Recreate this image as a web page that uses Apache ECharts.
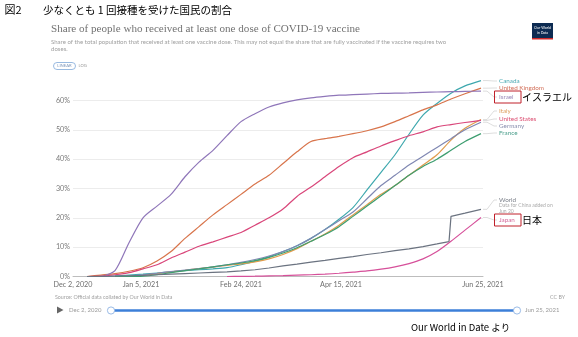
<!DOCTYPE html>
<html>
<head>
<meta charset="utf-8">
<script src="https://cdn.jsdelivr.net/npm/echarts@6/dist/echarts.min.js"></script>
<style>
  html, body { margin: 0; padding: 0; background: #fff; }
  #chart { width: 578px; height: 337px; }
</style>
</head>
<body>
<div id="chart"></div>
<script>
// Weekly sample dates (last point is the final day of data)
const dates = [
  '2020-12-02','2020-12-09','2020-12-16','2020-12-23','2020-12-30',
  '2021-01-06','2021-01-13','2021-01-20','2021-01-27','2021-02-03',
  '2021-02-10','2021-02-17','2021-02-24','2021-03-03','2021-03-10',
  '2021-03-17','2021-03-24','2021-03-31','2021-04-07','2021-04-14',
  '2021-04-21','2021-04-28','2021-05-05','2021-05-12','2021-05-19',
  '2021-05-26','2021-06-02','2021-06-09','2021-06-16','2021-06-24'
];

// Share of population with at least one dose (%)
const canada  = [null,null,0,0.2,0.5,0.8,1.2,1.6,2.0,2.3,2.6,3.0,4.0,5.2,6.7,8.5,10.5,13.0,16.0,19.5,23.5,29.5,35.5,41.5,48.5,55.0,59.0,62.5,65.0,66.8];
const uk      = [null,0,0.5,1.0,1.8,3.0,5.3,8.5,13.0,17.0,21.0,24.5,28.0,31.5,34.5,38.5,42.5,46.0,47.0,47.8,48.7,49.7,51.0,52.8,54.8,56.8,58.5,60.5,62.3,64.2];
const israel  = [null,null,0,2.0,11.5,20.0,24.0,28.0,34.0,39.0,43.0,48.0,52.8,55.5,57.8,59.2,60.2,60.9,61.4,61.8,62.0,62.2,62.4,62.5,62.6,62.8,62.9,63.0,63.1,63.2];
const italy   = [null,null,null,0,0.05,0.4,1.0,1.6,2.1,2.7,3.2,3.8,4.3,5.0,6.0,7.5,9.5,12.0,14.5,17.5,21.0,24.5,28.0,31.0,34.5,38.0,41.5,46.5,50.5,53.5];
const us      = [null,0,0.1,0.6,1.3,2.6,4.0,6.3,8.3,10.3,11.8,13.4,15.0,17.5,20.0,23.0,27.3,30.5,34.0,37.5,40.5,42.5,44.5,46.3,48.0,49.3,51.0,51.8,52.5,53.2];
const germany = [null,null,null,0,0.1,0.6,1.1,1.7,2.2,2.7,3.3,4.0,4.8,5.8,7.0,8.5,10.5,13.0,16.0,19.0,22.0,26.5,31.0,34.5,38.0,41.0,44.0,47.0,50.0,52.6];
const france  = [null,null,null,0,0,0.1,0.6,1.3,2.0,2.6,3.3,4.0,4.6,5.4,6.5,8.0,9.8,12.0,14.3,17.0,20.5,24.0,27.5,31.0,34.5,37.5,40.0,43.0,46.0,48.7];
const japan   = [null,null,null,null,null,null,null,null,null,null,null,0,0.05,0.1,0.2,0.3,0.45,0.6,0.8,1.1,1.5,1.9,2.5,3.3,4.4,6.0,8.5,12.0,15.8,20.1];

// World has an extra day around the step when China's data was added
const worldDates = [
  '2020-12-02','2020-12-09','2020-12-16','2020-12-23','2020-12-30',
  '2021-01-06','2021-01-13','2021-01-20','2021-01-27','2021-02-03',
  '2021-02-10','2021-02-17','2021-02-24','2021-03-03','2021-03-10',
  '2021-03-17','2021-03-24','2021-03-31','2021-04-07','2021-04-14',
  '2021-04-21','2021-04-28','2021-05-05','2021-05-12','2021-05-19',
  '2021-05-26','2021-06-02','2021-06-08','2021-06-09','2021-06-16','2021-06-24'
];
const world = [null,0,0.05,0.1,0.25,0.4,0.6,0.8,1.0,1.2,1.4,1.6,1.9,2.3,2.9,3.6,4.2,4.9,5.5,6.2,6.8,7.5,8.1,8.8,9.4,10.2,11.1,11.9,20.5,21.6,22.9];

// Axis ticks
const xTicks = ['2020-12-02','2021-01-05','2021-02-24','2021-04-15','2021-06-25'];
const xTickLabels = ['Dec 2, 2020','Jan 5, 2021','Feb 24, 2021','Apr 15, 2021','Jun 25, 2021'];
const yTicks = [0, 10, 20, 30, 40, 50, 60];

const countries = [
  { name: 'Canada',         vals: canada,  x: dates,      color: '#3ea8ae', label: '#49a9b3', ly: 81 },
  { name: 'United Kingdom', vals: uk,      x: dates,      color: '#d8744b', label: '#d2705a', ly: 88 },
  { name: 'Israel',         vals: israel,  x: dates,      color: '#8f76b9', label: '#9a8ab9', ly: 97, box: true, jp: 'イスラエル' },
  { name: 'Italy',          vals: italy,   x: dates,      color: '#e09c4c', label: '#dea060', ly: 111 },
  { name: 'United States',  vals: us,      x: dates,      color: '#d9467a', label: '#dc4f72', ly: 119 },
  { name: 'Germany',        vals: germany, x: dates,      color: '#7f87b2', label: '#8a8fae', ly: 126 },
  { name: 'France',         vals: france,  x: dates,      color: '#3e9e70', label: '#4b9f8c', ly: 133 },
  { name: 'World',          vals: world,   x: worldDates, color: '#6b7380', label: '#7a7f88', ly: 200, step: true },
  { name: 'Japan',          vals: japan,   x: dates,      color: '#d6509a', label: '#d56a9a', ly: 220, box: true, jp: '日本' }
];

// Dates are placed on a day-count axis measured from the first tick date
const DAY = 86400000;
const origin = Date.UTC(2020, 11, 2);
const toDay = s => Math.round((new Date(s + 'T00:00:00Z').getTime() - origin) / DAY);
const tickDays = xTicks.map(toDay);

const series = countries.map(c => ({
  name: c.name,
  type: 'line',
  showSymbol: false,
  smooth: c.step ? false : 0.25,
  clip: false,
  lineStyle: { width: 1.2, color: c.color },
  itemStyle: { color: c.color },
  data: c.x.map((d, i) => [toDay(d), c.vals[i]]).filter(p => p[1] !== null),
  z: 3
}));

const chart = echarts.init(document.getElementById('chart'), null, { renderer: 'canvas' });

const baseText = { fontFamily: 'Lato, "Noto Sans", sans-serif' };
const jpFont = '"Noto Sans CJK JP", sans-serif';

const staticGraphics = [
  // Japanese figure heading
  { type: 'text', x: 4.5, y: 10, style: { text: '図2', fontFamily: jpFont, fontSize: 11, fill: '#000', verticalAlign: 'middle' } },
  { type: 'text', x: 43, y: 10, style: { text: '少なくとも 1 回接種を受けた国民の割合', fontFamily: jpFont, fontSize: 10.5, fill: '#000', verticalAlign: 'middle' } },
  // Chart title & subtitle
  { type: 'text', x: 51, y: 29.5, style: { text: 'Share of people who received at least one dose of COVID-19 vaccine', fontFamily: '"Liberation Serif", serif', fontSize: 11.1, fill: '#727272', verticalAlign: 'middle' } },
  { type: 'text', x: 51, y: 42, style: { text: 'Share of the total population that received at least one vaccine dose. This may not equal the share that are fully vaccinated if the vaccine requires two', ...baseText, fontSize: 6.05, fill: '#a0a0a0', verticalAlign: 'middle' } },
  { type: 'text', x: 51, y: 49, style: { text: 'doses.', ...baseText, fontSize: 6.05, fill: '#a0a0a0', verticalAlign: 'middle' } },
  // Linear / log toggle
  { type: 'rect', shape: { x: 53.5, y: 62.5, width: 22, height: 7, r: 3.5 }, style: { fill: '#fff', stroke: '#7fa8d8', lineWidth: 0.8 } },
  { type: 'text', x: 64.5, y: 66, style: { text: 'LINEAR', ...baseText, fontSize: 4.2, fill: '#7a94b8', align: 'center', verticalAlign: 'middle' } },
  { type: 'text', x: 78.5, y: 66, style: { text: 'LOG', ...baseText, fontSize: 4.2, fill: '#999', verticalAlign: 'middle' } },
  // Logo
  { type: 'rect', shape: { x: 532, y: 23, width: 21, height: 15 }, style: { fill: '#0d2b52' } },
  { type: 'rect', shape: { x: 532, y: 38, width: 21, height: 1.5 }, style: { fill: '#cf2a2a' } },
  { type: 'text', x: 542.5, y: 28, style: { text: 'Our World', ...baseText, fontSize: 3.6, fill: '#fff', align: 'center', verticalAlign: 'middle' } },
  { type: 'text', x: 542.5, y: 33, style: { text: 'in Data', ...baseText, fontSize: 3.6, fill: '#fff', align: 'center', verticalAlign: 'middle' } },
  // Footer
  { type: 'text', x: 55, y: 297.5, style: { text: 'Source: Official data collated by Our World in Data', ...baseText, fontSize: 5.3, fill: '#a0a0a0', verticalAlign: 'middle' } },
  { type: 'text', x: 565, y: 297.5, style: { text: 'CC BY', ...baseText, fontSize: 5.3, fill: '#a0a0a0', align: 'right', verticalAlign: 'middle' } },
  // Timeline
  { type: 'polygon', shape: { points: [[57, 306.5], [57, 313.5], [63.5, 310]] }, style: { fill: '#666' } },
  { type: 'text', x: 69, y: 310.5, style: { text: 'Dec 2, 2020', ...baseText, fontSize: 6, fill: '#999', verticalAlign: 'middle' } },
  { type: 'line', shape: { x1: 111, y1: 310.5, x2: 517, y2: 310.5 }, style: { stroke: '#3c7fd8', lineWidth: 2.4 } },
  { type: 'circle', shape: { cx: 111, cy: 310.5, r: 3.6 }, style: { fill: '#fff', stroke: '#8fb3e3', lineWidth: 0.9 } },
  { type: 'circle', shape: { cx: 517, cy: 310.5, r: 3.6 }, style: { fill: '#fff', stroke: '#8fb3e3', lineWidth: 0.9 } },
  { type: 'text', x: 525, y: 310.5, style: { text: 'Jun 25, 2021', ...baseText, fontSize: 6, fill: '#999', verticalAlign: 'middle' } },
  // Credit
  { type: 'text', x: 411, y: 327, style: { text: 'Our World in Date より', fontFamily: jpFont, fontSize: 9.5, fill: '#000', verticalAlign: 'middle' } },
  // China note under World
  { type: 'text', x: 499, y: 205.7, style: { text: 'Data for China added on', ...baseText, fontSize: 5, fill: '#aaa', verticalAlign: 'middle' } },
  { type: 'text', x: 499, y: 211, style: { text: 'Jun 20', ...baseText, fontSize: 5, fill: '#aaa', verticalAlign: 'middle' } }
];

chart.setOption({
  animation: false,
  backgroundColor: '#fff',
  grid: { left: 73, right: 95, top: 100.5, bottom: 60.5, containLabel: false },
  xAxis: {
    type: 'value',
    min: tickDays[0],
    max: tickDays[tickDays.length - 1],
    axisLine: { show: true, lineStyle: { color: '#bdbdbd', width: 1 } },
    axisTick: { show: false },
    splitLine: { show: false },
    axisLabel: {
      customValues: tickDays,
      formatter: v => {
        const i = tickDays.indexOf(v);
        return i >= 0 ? xTickLabels[i] : '';
      },
      ...baseText, fontSize: 7.2, color: '#6f6f6f', margin: 5, hideOverlap: false
    }
  },
  yAxis: {
    type: 'value',
    min: yTicks[0],
    max: yTicks[yTicks.length - 1],
    interval: 10,
    axisLine: { show: false },
    axisTick: { show: false },
    splitLine: { show: true, lineStyle: { color: '#ececec', width: 1 } },
    axisLabel: { formatter: '{value}%', ...baseText, fontSize: 7.2, color: '#7a7a7a', margin: 3 }
  },
  series: series,
  graphic: staticGraphics
});

// End labels with small connectors from each line's last point
const labelX = 499;
const extra = [];
countries.forEach(c => {
  const idx = c.vals.length - 1;
  const p = chart.convertToPixel({ xAxisIndex: 0, yAxisIndex: 0 }, [toDay(c.x[idx]), c.vals[idx]]);
  extra.push({
    type: 'polyline',
    shape: { points: [[p[0] + 2, p[1]], [p[0] + 6, p[1]], [labelX - 5, c.ly], [labelX - 2, c.ly]] },
    style: { stroke: '#cfcfcf', lineWidth: 0.7, fill: null },
    z: 2
  });
  extra.push({
    type: 'text', x: labelX, y: c.ly,
    style: { text: c.name, ...baseText, fontSize: 6.3, fill: c.label, verticalAlign: 'middle' },
    z: 5
  });
  if (c.box) {
    extra.push({
      type: 'rect', shape: { x: 494.5, y: c.ly - 6, width: 26.5, height: 12 },
      style: { fill: null, stroke: '#c0202a', lineWidth: 1 }, z: 6
    });
    extra.push({
      type: 'text', x: 522, y: c.ly + 0.5,
      style: { text: c.jp, fontFamily: jpFont, fontSize: 10, fill: '#000', verticalAlign: 'middle' },
      z: 6
    });
  }
});

chart.setOption({ graphic: staticGraphics.concat(extra) });
</script>
</body>
</html>
